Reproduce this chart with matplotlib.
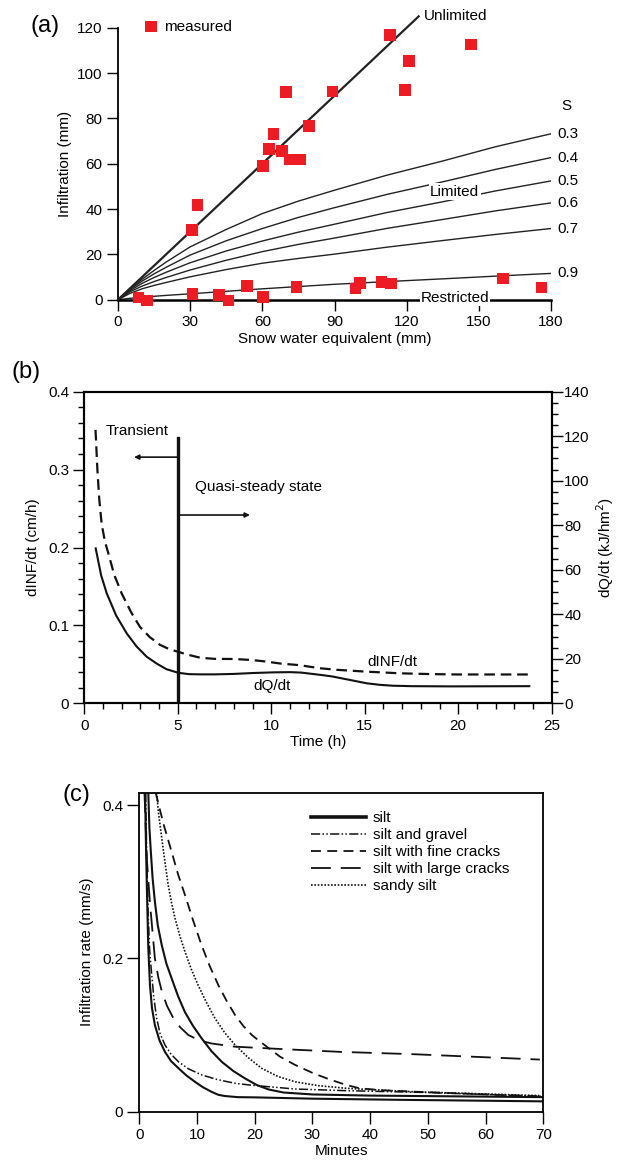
import matplotlib
matplotlib.use("Agg")
import matplotlib.pyplot as plt
from matplotlib.ticker import MultipleLocator

plt.rcParams['font.family'] = ['Liberation Sans', 'DejaVu Sans']
plt.rcParams['font.size'] = 11

# ---------------- Panel (a) data ----------------
meas_swe = [8.5, 12, 30.7, 33, 31, 42, 46, 53.6, 60.4, 60.4, 62.8, 64.7, 68.2, 69.9,
            71.3, 75.8, 74.2, 79.4, 89.2, 113, 121, 119.3, 146.7, 98.75, 100.5,
            109.6, 113.5, 160.1, 176.1]
meas_inf = [0.9, -0.4, 30.7, 41.7, 2.5, 2.2, -0.4, 6.0, 1.3, 58.9, 66.4, 73.1, 65.5, 91.6,
            61.8, 61.8, 5.5, 76.5, 91.8, 116.9, 105.2, 92.4, 112.6, 5.0, 7.5,
            7.9, 7.2, 9.4, 5.3]

unlim_x = [0, 125]
unlim_y = [0, 125]

curve_x = [0, 5, 10, 15, 20, 30, 45, 60, 75, 90, 112, 135, 157, 180]
s_labels = ["0.3", "0.4", "0.5", "0.6", "0.7", "0.9"]
s_curves = [
    [0, 4.8, 9.0, 12.9, 16.6, 23.3, 31.0, 38.0, 43.5, 48.3, 55.0, 61.2, 67.5, 73.2],
    [0, 4.5, 8.2, 11.4, 14.3, 19.7, 26.0, 31.4, 36.3, 40.6, 46.5, 52.0, 57.5, 62.7],
    [0, 4.0, 7.2, 9.8, 12.1, 16.3, 21.5, 25.9, 29.8, 33.3, 38.5, 43.2, 48.0, 52.4],
    [0, 3.5, 6.0, 8.0, 9.8, 13.1, 17.4, 21.2, 24.4, 27.2, 31.5, 35.4, 39.2, 42.7],
    [0, 2.8, 4.8, 6.3, 7.6, 10.1, 13.3, 16.1, 18.2, 20.1, 23.2, 26.1, 28.8, 31.4],
    [0, 0.6, 1.1, 1.5, 1.9, 2.6, 3.7, 4.8, 5.8, 6.8, 8.0, 9.2, 10.4, 11.6],
]

# ---------------- Panel (b) data ----------------
inf_t = [0.6, 0.7, 0.8, 0.93, 1.1, 1.28, 1.6, 2.0, 2.5, 2.98, 3.5, 4.05, 4.5, 5.03, 5.6, 6.2,
         7.0, 8.0, 9.0, 9.75, 10.5, 11.5, 12.6, 13.5, 15.1, 16.9, 18.5, 20.0, 23.8]
inf_v = [0.351, 0.300, 0.262, 0.230, 0.208, 0.193, 0.165, 0.141, 0.117, 0.098, 0.085, 0.075,
         0.070, 0.066, 0.062, 0.0585, 0.057, 0.0569, 0.0555, 0.0535, 0.051, 0.049, 0.045,
         0.043, 0.0406, 0.0385, 0.0375, 0.037, 0.037]
dq_t = [0.61, 0.9, 1.2, 1.7, 2.27, 2.8, 3.34, 3.9, 4.4, 5.03, 5.6, 6.2, 7.0, 8.0, 9.0, 10.1,
        11.0, 11.6, 12.1, 12.7, 13.3, 14.2, 15.1, 15.8, 16.5, 17.5, 19.6, 23.8]
dq_v = [69.6, 57.5, 49.4, 39.5, 31.4, 25.5, 20.9, 17.7, 15.3, 13.7, 13.1, 13.0, 13.0, 13.2,
        13.6, 13.9, 14.0, 13.8, 13.3, 12.7, 12.0, 10.5, 9.0, 8.3, 7.9, 7.7, 7.6, 7.7]
boundary_t = 5
boundary_top = 0.340

# ---------------- Panel (c) data ----------------
silt1_t = [1.56, 1.75, 2.0, 2.3, 2.7, 3.2, 3.9, 4.7, 5.6, 6.7, 7.9, 9.3, 10.8, 12.5, 14.3,
           16.3, 18.3, 20.3, 22.4, 25, 30, 40, 55, 70]
silt1_v = [0.416, 0.37, 0.339, 0.305, 0.274, 0.243, 0.217, 0.193, 0.174, 0.151, 0.130, 0.112,
           0.0957, 0.079, 0.065, 0.053, 0.0435, 0.035, 0.029, 0.025, 0.0225, 0.021, 0.020, 0.019]
silt2_t = [1.0, 1.15, 1.3, 1.55, 1.85, 2.2, 2.7, 3.5, 4.45, 5.5, 6.8, 8.2, 9.65, 11.0, 12.5,
           13.7, 14.8, 17, 20, 30, 45, 70]
silt2_v = [0.416, 0.35, 0.296, 0.215, 0.165, 0.135, 0.113, 0.093, 0.078, 0.066, 0.0566, 0.047,
           0.039, 0.032, 0.026, 0.022, 0.0205, 0.019, 0.0187, 0.017, 0.0155, 0.0135]
gravel_t = [1.1, 1.3, 1.56, 1.8, 2.1, 2.5, 3.0, 3.6, 4.45, 5.5, 6.8, 8.5, 10.8, 13.5, 16.6,
            19.5, 22.4, 27.0, 35.9, 50, 70]
gravel_v = [0.416, 0.33, 0.252, 0.21, 0.183, 0.15, 0.122, 0.102, 0.087, 0.075, 0.065, 0.056,
            0.048, 0.042, 0.037, 0.0345, 0.0326, 0.0296, 0.0274, 0.025, 0.020]
fine_t = [2.84, 4.2, 5.6, 6.7, 7.9, 9.3, 10.8, 12.2, 13.7, 15.1, 16.6, 18.0, 19.5, 21.0, 22.4,
          24.4, 27.0, 30.2, 33.0, 35.9, 38.2, 42, 48, 55, 62, 70]
fine_v = [0.416, 0.375, 0.339, 0.31, 0.283, 0.25, 0.217, 0.19, 0.165, 0.145, 0.126, 0.112,
          0.100, 0.091, 0.083, 0.0717, 0.061, 0.050, 0.042, 0.0348, 0.0305, 0.028, 0.026,
          0.024, 0.022, 0.0196]
large_t = [0.9, 1.3, 1.87, 2.7, 3.3, 3.9, 4.8, 5.9, 7.1, 8.5, 10.4, 12.5, 16.6, 24.4, 35,
           47.5, 69.4]
large_v = [0.416, 0.33, 0.27, 0.2, 0.175, 0.157, 0.138, 0.122, 0.11, 0.1, 0.093, 0.089,
           0.0848, 0.0818, 0.078, 0.075, 0.068]
sandy_t = [3.0, 3.3, 4.2, 5.0, 5.6, 6.2, 7.0, 7.9, 9.0, 10.2, 11.6, 13.1, 14.8, 16.6, 18.8,
           21.2, 24, 27, 31, 35.9, 47.5, 69.4]
sandy_v = [0.416, 0.391, 0.339, 0.296, 0.272, 0.252, 0.23, 0.209, 0.186, 0.165, 0.143, 0.122,
           0.103, 0.087, 0.071, 0.0566, 0.046, 0.039, 0.034, 0.0305, 0.026, 0.021]

W, H = 619, 1165
fig = plt.figure(figsize=(W / 100, H / 100), dpi=100)

def rect(l, r, b, t):
    return [l / W, 1 - b / H, (r - l) / W, (b - t) / H]

# ================= (a) =================
axA = fig.add_axes(rect(118, 551, 299.7, 27.7))
axA.set_xlim(0, 180)
axA.set_ylim(0, 120)
for sp in ['top', 'right']:
    axA.spines[sp].set_visible(False)
axA.spines['left'].set_linewidth(1.3)
axA.spines['bottom'].set_linewidth(1.8)
axA.set_xticks([0, 30, 60, 90, 120, 150, 180])
axA.set_yticks([0, 20, 40, 60, 80, 100, 120])
axA.tick_params(direction='out', length=8, width=1.0, pad=3, labelsize=11)
axA.set_xlabel("Snow water equivalent (mm)", fontsize=11, labelpad=2)
axA.set_ylabel("Infiltration (mm)", fontsize=11, labelpad=4)

axA.plot(unlim_x, unlim_y, color='#222222', lw=1.6, clip_on=False, zorder=3)
axA.text(127, 125, "Unlimited", ha='left', va='center', fontsize=11)
for lab, yv in zip(s_labels, s_curves):
    axA.plot(curve_x, yv, color='#222222', lw=1.0, zorder=2)
    axA.text(182.5, yv[-1], lab, ha='left', va='center', fontsize=11)
axA.text(186.5, 85.5, "S", ha='center', va='center', fontsize=11)
axA.text(140, 47.6, "Limited", ha='center', va='center', fontsize=11,
         bbox=dict(facecolor='white', edgecolor='none', pad=1.0), zorder=4)
axA.text(140, 0.6, "Restricted", ha='center', va='center', fontsize=11,
         bbox=dict(facecolor='white', edgecolor='none', pad=0.5), zorder=4)
axA.scatter(meas_swe, meas_inf, marker='s', s=70, color='#ED1C24', edgecolors='none',
            zorder=5, clip_on=False, label="measured")
axA.legend(loc='center left', bbox_to_anchor=(0.062, 1.004), frameon=False, borderpad=0,
           borderaxespad=0, handlelength=0.8, handletextpad=0.45, scatterpoints=1, fontsize=11)
fig.text(31 / W, 1 - 26 / H, "(a)", fontsize=17, ha='left', va='center')

# ================= (b) =================
axB = fig.add_axes(rect(84.3, 551.7, 703.3, 391.7))
axB.set_xlim(0, 25)
axB.set_ylim(0, 0.4)
for sp in axB.spines.values():
    sp.set_linewidth(1.5)
axB.xaxis.set_major_locator(MultipleLocator(5))
axB.xaxis.set_minor_locator(MultipleLocator(1))
axB.yaxis.set_minor_locator(MultipleLocator(0.02))
axB.set_yticks([0, 0.1, 0.2, 0.3, 0.4])
axB.set_yticklabels(["0", "0.1", "0.2", "0.3", "0.4"])
axB.tick_params(which='major', direction='out', length=8, width=1.0, labelsize=11, pad=3)
axB.tick_params(which='minor', direction='out', length=4.5, width=1.0)
axB.set_xlabel("Time (h)", fontsize=11, labelpad=2)
axB.set_ylabel("dINF/dt (cm/h)", fontsize=11, labelpad=6)

axB2 = axB.twinx()
axB2.set_ylim(0, 140)
axB2.yaxis.set_major_locator(MultipleLocator(20))
axB2.yaxis.set_minor_locator(MultipleLocator(5))
axB2.tick_params(which='major', direction='out', length=8, width=1.0, labelsize=11, pad=1)
axB2.tick_params(which='minor', direction='out', length=4.5, width=1.0)
axB2.set_ylabel("dQ/dt (kJ/hm$^2$)", fontsize=11, labelpad=3)
for sp in axB2.spines.values():
    sp.set_linewidth(1.5)

axB.plot(inf_t, inf_v, color='#111111', lw=1.6, linestyle=(0, (4.8, 2.6)))
axB2.plot(dq_t, dq_v, color='#111111', lw=1.5)
axB.plot([boundary_t, boundary_t], [0, boundary_top], color='#111111', lw=2.4)
axB.annotate("", xy=(2.66, 0.316), xytext=(boundary_t, 0.316),
             arrowprops=dict(arrowstyle='-|>', color='#111111', lw=1.2, mutation_scale=7,
                             shrinkA=0, shrinkB=0))
axB.annotate("", xy=(8.86, 0.2417), xytext=(boundary_t, 0.2417),
             arrowprops=dict(arrowstyle='-|>', color='#111111', lw=1.2, mutation_scale=7,
                             shrinkA=0, shrinkB=0))
axB.text(1.16, 0.349, "Transient", ha='left', va='center', fontsize=11)
axB.text(5.92, 0.278, "Quasi-steady state", ha='left', va='center', fontsize=11)
axB.text(10.06, 0.022, "dQ/dt", ha='center', va='center', fontsize=11)
axB.text(16.5, 0.0535, "dINF/dt", ha='center', va='center', fontsize=11)
fig.text(11 / W, 1 - 372 / H, "(b)", fontsize=17, ha='left', va='center')

# ================= (c) =================
axC = fig.add_axes(rect(139.3, 543.3, 1111.7, 792.7))
axC.set_xlim(0, 70)
axC.set_ylim(0, 0.4161)
for sp in axC.spines.values():
    sp.set_linewidth(1.3)
axC.set_xticks([0, 10, 20, 30, 40, 50, 60, 70])
axC.set_yticks([0, 0.2, 0.4])
axC.set_yticklabels(["0", "0.2", "0.4"])
axC.tick_params(direction='out', length=8.5, width=1.0, labelsize=11, pad=3)
axC.set_xlabel("Minutes", fontsize=11, labelpad=2)
axC.set_ylabel("Infiltration rate (mm/s)", fontsize=11, labelpad=6)

axC.plot(silt1_t, silt1_v, color='#111111', lw=1.5, label="silt")
axC.plot(silt2_t, silt2_v, color='#111111', lw=1.5)
axC.plot(gravel_t, gravel_v, color='#111111', lw=1.1,
         linestyle=(0, (6, 1.5, 1, 1.5, 1, 1.5)), label="silt and gravel")
axC.plot(fine_t, fine_v, color='#111111', lw=1.3, linestyle=(0, (5.5, 3.5)),
         label="silt with fine cracks")
axC.plot(large_t, large_v, color='#111111', lw=1.3, linestyle=(0, (11, 5.5)),
         label="silt with large cracks")
axC.plot(sandy_t, sandy_v, color='#111111', lw=1.2, linestyle=(0, (1, 1)), label="sandy silt")
leg = axC.legend(loc='upper left', bbox_to_anchor=(0.425, 0.942), frameon=False, borderpad=0,
                 borderaxespad=0, handlelength=3.6, handletextpad=0.45, labelspacing=0.2,
                 fontsize=11)
for line in leg.get_lines():
    if line.get_label() == "silt":
        line.set_linewidth(2.6)
fig.text(62 / W, 1 - 795 / H, "(c)", fontsize=17, ha='left', va='center')

fig.savefig("out.png", dpi=100)
